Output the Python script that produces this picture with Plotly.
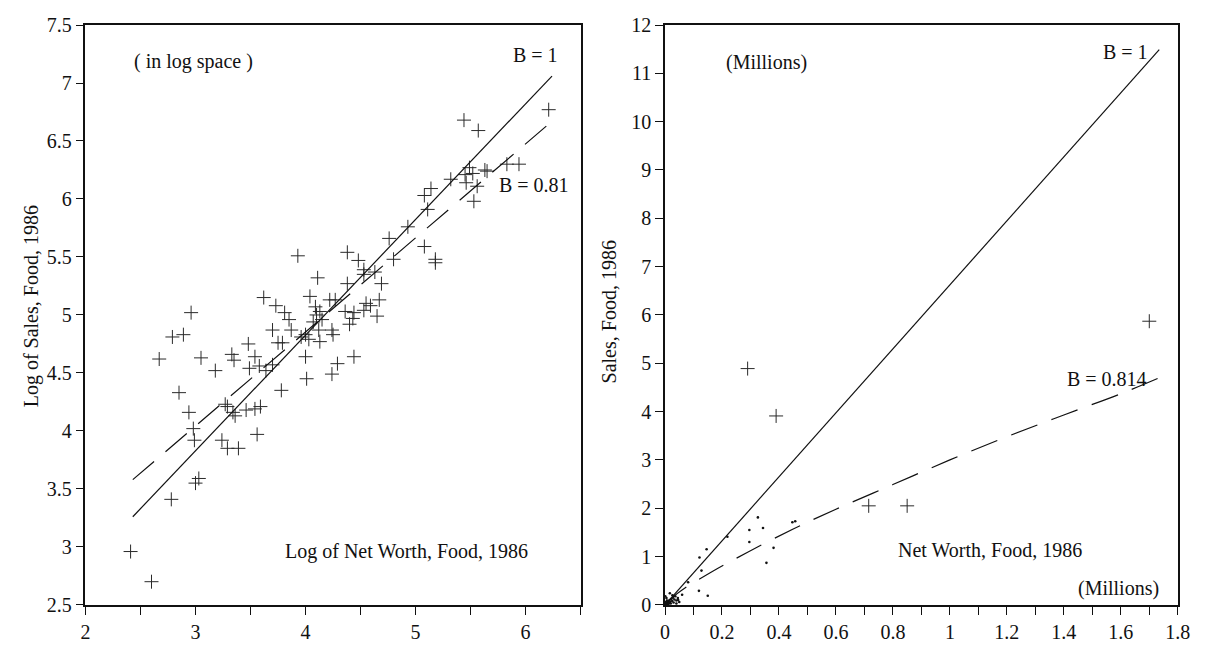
import plotly.graph_objects as go

# ---------------- Left panel (log space) ----------------
log_net_worth = [2.41, 2.60, 2.78, 3.00, 3.03, 2.99, 2.98, 3.24, 3.29, 3.39, 3.56, 2.94, 2.85,
                 3.27, 3.29, 3.34, 3.36, 3.46, 3.54, 3.59, 3.78, 2.67, 3.05, 3.18, 2.79, 2.89,
                 2.96, 3.33, 3.35, 3.48, 3.54, 3.49, 3.58, 3.64, 3.70, 3.70, 3.62, 3.73, 3.81,
                 3.85, 3.87, 3.75, 3.79, 3.93, 3.96, 4.00, 4.03, 4.13, 4.00, 4.01, 4.04, 4.09,
                 4.11, 4.07, 4.12, 4.10, 4.13, 4.15, 4.22, 4.27, 4.24, 4.25, 4.24, 4.29, 4.44,
                 4.40, 4.36, 4.44, 4.43, 4.53, 4.55, 4.59, 4.67, 4.65, 4.38, 4.69, 4.53, 4.53,
                 4.63, 4.38, 4.48, 4.76, 4.80, 4.93, 5.08, 5.18, 5.18, 5.11, 5.08, 5.14, 5.32,
                 5.45, 5.46, 5.49, 5.52, 5.63, 5.65, 5.56, 5.53, 5.44, 5.57, 5.83, 5.94, 6.21]
log_sales = [2.96, 2.70, 3.41, 3.55, 3.59, 3.92, 4.02, 3.92, 3.85, 3.85, 3.97, 4.16, 4.33,
             4.23, 4.21, 4.16, 4.13, 4.18, 4.19, 4.21, 4.35, 4.62, 4.63, 4.52, 4.81, 4.83,
             5.02, 4.66, 4.61, 4.75, 4.64, 4.54, 4.56, 4.52, 4.57, 4.87, 5.15, 5.08, 5.02,
             4.96, 4.87, 4.76, 4.76, 5.51, 4.81, 4.83, 4.79, 4.77, 4.64, 4.45, 5.16, 5.07,
             5.32, 4.94, 4.87, 5.00, 5.03, 4.96, 5.13, 5.13, 4.87, 4.83, 4.49, 4.58, 4.64,
             4.92, 5.03, 5.02, 4.97, 5.04, 5.10, 5.08, 5.13, 4.99, 5.27, 5.27, 5.39, 5.35,
             5.37, 5.54, 5.47, 5.66, 5.48, 5.76, 5.59, 5.48, 5.45, 5.91, 6.03, 6.09, 6.17,
             6.21, 6.14, 6.27, 6.22, 6.25, 6.24, 6.11, 5.98, 6.68, 6.59, 6.30, 6.30, 6.77]

log_fit_x = [2.43, 6.24]
log_fit_b1 = [3.26, 7.06]
log_fit_b081 = [3.58, 6.67]

left_xticks = [2, 3, 4, 5, 6]
left_xticktext = ["2", "3", "4", "5", "6"]
left_xminor = [2.5, 3.5, 4.5, 5.5, 6.5]
left_yticks = [2.5, 3, 3.5, 4, 4.5, 5, 5.5, 6, 6.5, 7, 7.5]
left_yticktext = ["2.5", "3", "3.5", "4", "4.5", "5", "5.5", "6", "6.5", "7", "7.5"]

# ---------------- Right panel (millions) ----------------
big_net_worth = [0.29, 0.39, 0.715, 0.85, 1.70]
big_sales = [4.89, 3.91, 2.05, 2.05, 5.87]

small_net_worth = [0.000, 0.002, 0.004, 0.006, 0.008, 0.010, 0.012, 0.014, 0.016, 0.018, 0.020,
                   0.022, 0.025, 0.028, 0.030, 0.033, 0.036, 0.040, 0.045, 0.050, 0.003, 0.007,
                   0.012, 0.017, 0.005, 0.001, 0.026, 0.040, 0.046,
                   0.060, 0.081, 0.119, 0.150, 0.128, 0.121, 0.146, 0.219, 0.296, 0.296, 0.326,
                   0.344, 0.356, 0.381, 0.447, 0.457]
small_sales = [0.000, 0.010, 0.030, 0.015, 0.050, 0.020, 0.070, 0.040, 0.100, 0.060, 0.030,
               0.120, 0.080, 0.150, 0.050, 0.110, 0.180, 0.090, 0.140, 0.060, 0.060, 0.090,
               0.000, 0.240, 0.140, 0.180, 0.200, 0.030, 0.100,
               0.210, 0.470, 0.290, 0.190, 0.710, 0.980, 1.150, 1.410, 1.300, 1.550, 1.810,
               1.590, 0.870, 1.180, 1.710, 1.730]

lin_fit_x = [0.0, 1.735]
lin_fit_b1 = [0.0, 11.49]
curve_x = [0.0, 0.02, 0.07, 0.16, 0.29, 0.45, 0.60, 0.80, 1.00, 1.20, 1.40, 1.60, 1.735]
curve_b0814 = [0.0, 0.125, 0.35, 0.67, 1.09, 1.57, 1.98, 2.49, 3.00, 3.48, 3.93, 4.37, 4.70]

right_xticks = [0, 0.2, 0.4, 0.6, 0.8, 1, 1.2, 1.4, 1.6, 1.8]
right_xticktext = ["0", "0.2", "0.4", "0.6", "0.8", "1", "1.2", "1.4", "1.6", "1.8"]
right_xminor = [0.1, 0.3, 0.5, 0.7, 0.9, 1.1, 1.3, 1.5, 1.7]
right_yticks = list(range(0, 13))
right_yticktext = [str(v) for v in right_yticks]

W, H = 1209, 656
FONT = "Liberation Serif, Times New Roman, serif"
INK = "#111111"

fig = go.Figure()

plus = dict(symbol="cross-thin", size=10, line=dict(width=1, color="#2a2a2a"), color="#2a2a2a")

fig.add_trace(go.Scatter(x=log_net_worth, y=log_sales, mode="markers", marker=plus,
                         xaxis="x", yaxis="y", showlegend=False))
fig.add_trace(go.Scatter(x=log_fit_x, y=log_fit_b1, mode="lines",
                         line=dict(color=INK, width=1.2), xaxis="x", yaxis="y", showlegend=False))
fig.add_trace(go.Scatter(x=log_fit_x, y=log_fit_b081, mode="lines",
                         line=dict(color=INK, width=1.2, dash="28px,15px"),
                         xaxis="x", yaxis="y", showlegend=False))

fig.add_trace(go.Scatter(x=lin_fit_x, y=lin_fit_b1, mode="lines",
                         line=dict(color=INK, width=1.2), xaxis="x2", yaxis="y2", showlegend=False))
fig.add_trace(go.Scatter(x=curve_x, y=curve_b0814, mode="lines",
                         line=dict(color=INK, width=1.2, dash="28px,15px", shape="spline"),
                         xaxis="x2", yaxis="y2", showlegend=False))
fig.add_trace(go.Scatter(x=small_net_worth, y=small_sales, mode="markers",
                         marker=dict(symbol="circle", size=2.6, color="#111111"),
                         cliponaxis=False, xaxis="x2", yaxis="y2", showlegend=False))
fig.add_trace(go.Scatter(x=big_net_worth, y=big_sales, mode="markers", marker=plus,
                         xaxis="x2", yaxis="y2", showlegend=False))

ydom = [(H - 614.5) / H, (H - 14.5) / H]
axis_common = dict(showline=True, linecolor=INK, linewidth=1.5, mirror=True,
                   ticks="outside", ticklen=8, tickwidth=1.3, tickcolor=INK,
                   showgrid=False, zeroline=False, fixedrange=True,
                   tickfont=dict(family=FONT, size=20, color=INK))

fig.update_layout(
    width=W, height=H,
    margin=dict(l=0, r=0, t=0, b=0),
    paper_bgcolor="white", plot_bgcolor="white",
    font=dict(family=FONT, size=20, color=INK),
    xaxis=dict(domain=[81.7 / W, 584.3 / W], range=[2, 6.5],
               tickmode="array", tickvals=left_xticks, ticktext=left_xticktext,
               minor=dict(tickmode="array", tickvals=left_xminor, ticks="outside",
                          ticklen=8, tickwidth=1.3, tickcolor=INK, showgrid=False),
               anchor="y", **axis_common),
    yaxis=dict(domain=ydom, range=[2.5, 7.5],
               tickmode="array", tickvals=left_yticks, ticktext=left_yticktext,
               anchor="x", **axis_common),
    xaxis2=dict(domain=[670 / W, 1190.5 / W], range=[0, 1.8],
                tickmode="array", tickvals=right_xticks, ticktext=right_xticktext,
                minor=dict(tickmode="array", tickvals=right_xminor, ticks="outside",
                           ticklen=8, tickwidth=1.3, tickcolor=INK, showgrid=False),
                anchor="y2", **axis_common),
    yaxis2=dict(domain=ydom, range=[0, 12],
                tickmode="array", tickvals=right_yticks, ticktext=right_yticktext,
                anchor="x2", **axis_common),
)


def note(text, px, py, angle=0):
    fig.add_annotation(text=text, x=px / W, y=1 - py / H, xref="paper", yref="paper",
                       xanchor="center", yanchor="middle", showarrow=False, textangle=angle,
                       font=dict(family=FONT, size=20, color=INK))


note("( in log space )", 191.5, 52)
note("B = 1", 539, 46)
note("B = 0.81", 537, 180)
note("Log of Net Worth, Food, 1986", 407.5, 559)
note("Log of Sales, Food, 1986", 27, 306, -90)

note("(Millions)", 773, 53)
note("B = 1", 1137, 42.5)
note("B = 0.814", 1119, 380.5)
note("Net Worth, Food, 1986", 1000, 558)
note("(Millions)", 1130.5, 598)
note("Sales, Food, 1986", 613, 311, -90)

fig.write_html("out.html")
